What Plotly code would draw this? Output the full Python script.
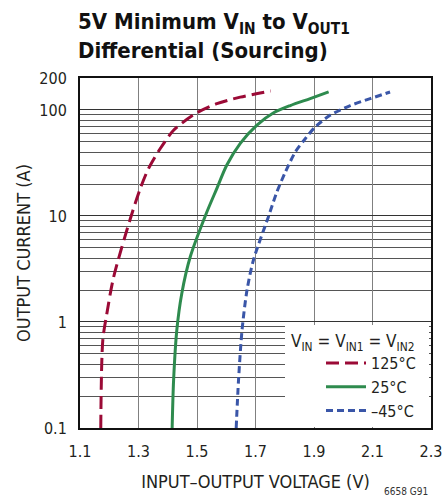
import plotly.graph_objects as go

# 125°C
v125 = [1.171, 1.178, 1.192, 1.215, 1.272, 1.306, 1.334, 1.374, 1.420, 1.494, 1.568, 1.648, 1.752]
i125 = [0.1, 0.675, 1.21, 2.65, 9.4, 18.1, 27.9, 43, 64.2, 92, 114.5, 132, 151]
# 25°C
v25 = [1.415, 1.420, 1.431, 1.448, 1.477, 1.532, 1.568, 1.602, 1.648, 1.705, 1.762, 1.819, 1.887, 1.950]
i25 = [0.1, 0.283, 0.84, 1.86, 4.12, 10.6, 18.2, 30.2, 48.4, 72, 94, 110, 128, 148]
# -45°C
vm45 = [1.634, 1.642, 1.654, 1.671, 1.693, 1.744, 1.773, 1.802, 1.836, 1.870, 1.904, 1.955, 2.024, 2.092, 2.160]
im45 = [0.1, 0.283, 0.84, 2.0, 3.84, 9.8, 16.8, 25.9, 40.1, 53.5, 69, 89, 110, 127.6, 147.6]

x_ticks = [1.1, 1.3, 1.5, 1.7, 1.9, 2.1, 2.3]
y_ticks = [0.1, 1, 10, 100, 200]
y_tick_text = ["0.1", "1", "10", "100", "200"]
y_minor = [m * 10 ** e for e in (-1, 0, 1) for m in range(2, 10)]

FONT = "DejaVu Sans Condensed, Liberation Sans Narrow, DejaVu Sans, sans-serif"
TXT = "#231f20"

fig = go.Figure()
fig.add_trace(go.Scatter(x=v125, y=i125, mode="lines", name="125°C",
                         line=dict(color="#9b0a36", width=3, dash="13px,6px", shape="spline", smoothing=0.8)))
fig.add_trace(go.Scatter(x=v25, y=i25, mode="lines", name="25°C",
                         line=dict(color="#2e8b4e", width=3, shape="spline", smoothing=0.8)))
fig.add_trace(go.Scatter(x=vm45, y=im45, mode="lines", name="–45°C",
                         line=dict(color="#3a56a8", width=3, dash="7px,4px", shape="spline", smoothing=0.8)))

W, H = 442, 498
L, R, T, B = 80, 11, 78, 70
PW, PH = W - L - R, H - T - B


def px(xf):
    return (xf - L) / PW


def py(yf):
    return (H - B - yf) / PH


fig.update_layout(
    width=W, height=H,
    margin=dict(l=L, r=R, t=T, b=B, autoexpand=False),
    paper_bgcolor="white", plot_bgcolor="white",
    font=dict(family=FONT, size=16, color=TXT),
    showlegend=True,
    legend=dict(x=px(321), xanchor="left", y=0, yanchor="bottom", bgcolor="rgba(0,0,0,0)",
                font=dict(size=16, color=TXT), tracegroupgap=0, itemwidth=40),
)
fig.update_xaxes(range=[1.1, 2.3], tickvals=x_ticks, ticktext=[f"{v:.1f}" for v in x_ticks],
                 showgrid=True, gridcolor="#808080", gridwidth=1, zeroline=False, automargin=False,
                 showline=True, linecolor="#111", linewidth=2, mirror=True, ticks="",
                 ticklabelstandoff=8, ticklabeloverflow="allow",
                 title=dict(text="INPUT–OUTPUT VOLTAGE (V)", font=dict(size=18), standoff=15))
fig.update_yaxes(type="log", range=[-1, 2.30103], tickvals=y_ticks, ticktext=y_tick_text,
                 showgrid=True, gridcolor="#333", gridwidth=1, zeroline=False, automargin=False,
                 showline=True, linecolor="#111", linewidth=2, mirror=True, ticks="",
                 ticklabelstandoff=8, ticklabeloverflow="allow",
                 minor=dict(tickvals=y_minor, showgrid=True, gridcolor="#555", gridwidth=1, ticks=""),
                 title=dict(text="OUTPUT CURRENT (A)", font=dict(size=18), standoff=4))

# white legend box
fig.add_shape(type="rect", xref="paper", yref="paper", x0=px(285), x1=px(429), y0=py(427), y1=py(325),
              fillcolor="white", line=dict(width=0), layer="above")
fig.add_annotation(text="V<sub>IN</sub> = V<sub>IN1</sub> = V<sub>IN2</sub>", xref="paper", yref="paper",
                   x=px(289), y=py(342), xanchor="left", yanchor="middle", showarrow=False,
                   font=dict(size=17, color=TXT))

# title
fig.add_annotation(text="<b>5V Minimum V<sub>IN</sub> to V<sub>OUT1</sub><br>Differential (Sourcing)</b>",
                   xref="paper", yref="paper", x=px(76), y=py(7), xanchor="left", yanchor="top",
                   align="left", showarrow=False, font=dict(family=FONT, size=22, color="#111"))

fig.add_annotation(text="6658 G91", xref="paper", yref="paper", x=px(430), y=py(491),
                   xanchor="right", yanchor="middle", showarrow=False, font=dict(size=10, color="#333"))

fig.write_html("out.html", config={"displayModeBar": False},
               post_script="document.body.style.margin='0';document.body.style.overflow='hidden';")
